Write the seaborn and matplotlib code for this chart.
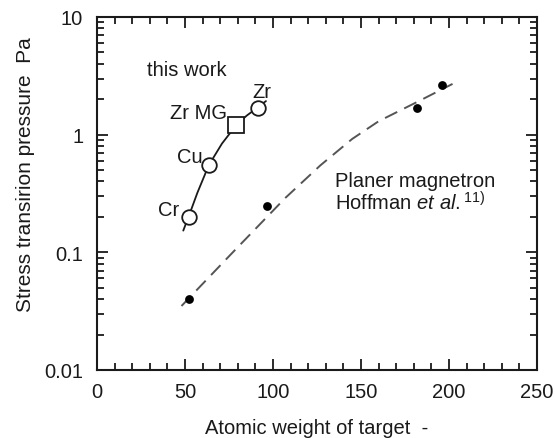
import numpy as np
import matplotlib
matplotlib.use("Agg")
import matplotlib.pyplot as plt
from matplotlib.ticker import LogLocator, NullFormatter
import seaborn as sns

# This work: transition pressure vs. target atomic weight
work_labels = ["Cr", "Cu", "Zr MG", "Zr"]
work_weight = [52.0, 63.5, 79.0, 91.2]
work_pressure = [0.20, 0.55, 1.2, 1.7]
work_marker = ["o", "o", "s", "o"]

# Guide line through this work's points
work_line_x = [49.0, 52.0, 57.0, 63.5, 71.0, 79.0, 85.0, 91.2, 96.0]
work_line_y = [0.153, 0.20, 0.32, 0.55, 0.84, 1.2, 1.45, 1.7, 1.93]

# Hoffman et al. (planar magnetron)
hoff_weight = [52.5, 96.8, 182.0, 195.8]
hoff_pressure = [0.040, 0.25, 1.70, 2.62]

# Dashed trend through Hoffman data
hoff_line_x = [48, 76, 107, 127, 145, 160, 182, 202]
hoff_line_y = [0.035, 0.096, 0.29, 0.55, 0.92, 1.3, 1.9, 2.7]

x_ticks = [0, 50, 100, 150, 200, 250]
y_ticks = [0.01, 0.1, 1, 10]
y_tick_labels = ["0.01", "0.1", "1", "10"]

sns.set_style("ticks")
plt.rcParams["font.family"] = ["Liberation Sans", "DejaVu Sans"]
plt.rcParams["mathtext.fontset"] = "custom"
plt.rcParams["mathtext.rm"] = "Liberation Sans"
plt.rcParams["mathtext.it"] = "Liberation Sans:italic"
fs = 14.5
ink = "#1a1a1a"

fig = plt.figure(figsize=(5.55, 4.39), dpi=100)
ax = fig.add_axes([0.1748, 0.1549, 0.7928, 0.8041])

ax.set_yscale("log")
ax.set_xlim(0, 250)
ax.set_ylim(0.01, 10)

# Dashed trend line
sns.lineplot(x=hoff_line_x, y=hoff_line_y, ax=ax, color="#555555", lw=1.4,
             sort=False, estimator=None)
ax.lines[-1].set_dashes([7, 4])
sns.scatterplot(x=hoff_weight, y=hoff_pressure, ax=ax, color="black", s=40,
                edgecolor="black", linewidth=0, zorder=4)

# This work
sns.lineplot(x=work_line_x, y=work_line_y, ax=ax, color=ink, lw=1.3,
             sort=False, estimator=None)
for wx, py, mk in zip(work_weight, work_pressure, work_marker):
    ax.plot(wx, py, marker=mk, ms=10.5 if mk == "o" else 11.5,
            mfc="white", mec=ink, mew=1.3, ls="none", zorder=5)

# Point labels
ax.text(88.5, 2.35, "Zr", fontsize=fs, color=ink, ha="left", va="center")
ax.text(41.5, 1.55, "Zr MG", fontsize=fs, color=ink, ha="left", va="center")
ax.text(45.5, 0.65, "Cu", fontsize=fs, color=ink, ha="left", va="center")
ax.text(34.5, 0.23, "Cr", fontsize=fs, color=ink, ha="left", va="center")
ax.text(28.5, 3.6, "this work", fontsize=fs, color=ink, ha="left", va="center")
ax.text(135, 0.41, "Planer magnetron", fontsize=fs, color=ink,
        ha="left", va="center")
ax.text(135, 0.27, r"Hoffman $\mathit{et\ al.}^{\mathrm{11)}}$", fontsize=fs,
        color=ink, ha="left", va="center")

ax.set_xticks(x_ticks)
ax.set_xticks(np.arange(0, 251, 10), minor=True)
ax.set_yticks(y_ticks)
ax.set_yticklabels(y_tick_labels)
ax.yaxis.set_minor_locator(LogLocator(base=10, subs=np.arange(2, 10), numticks=20))
ax.yaxis.set_minor_formatter(NullFormatter())
ax.tick_params(which="both", direction="in", top=True, right=True,
               color=ink, width=1.3, labelsize=fs, labelcolor=ink)
ax.tick_params(which="major", length=8)
ax.tick_params(which="minor", length=5)
ax.tick_params(axis="x", which="both", pad=9)
ax.tick_params(axis="y", which="both", pad=10)
for sp in ax.spines.values():
    sp.set_linewidth(1.5)
    sp.set_color(ink)

ax.set_xlabel("Atomic weight of target  -", fontsize=fs, color=ink, labelpad=12)
ax.set_ylabel("Stress transirion pressure  Pa", fontsize=15, color=ink)
ax.yaxis.set_label_coords(-0.14, 0.555)

fig.savefig("out.png", dpi=100)
